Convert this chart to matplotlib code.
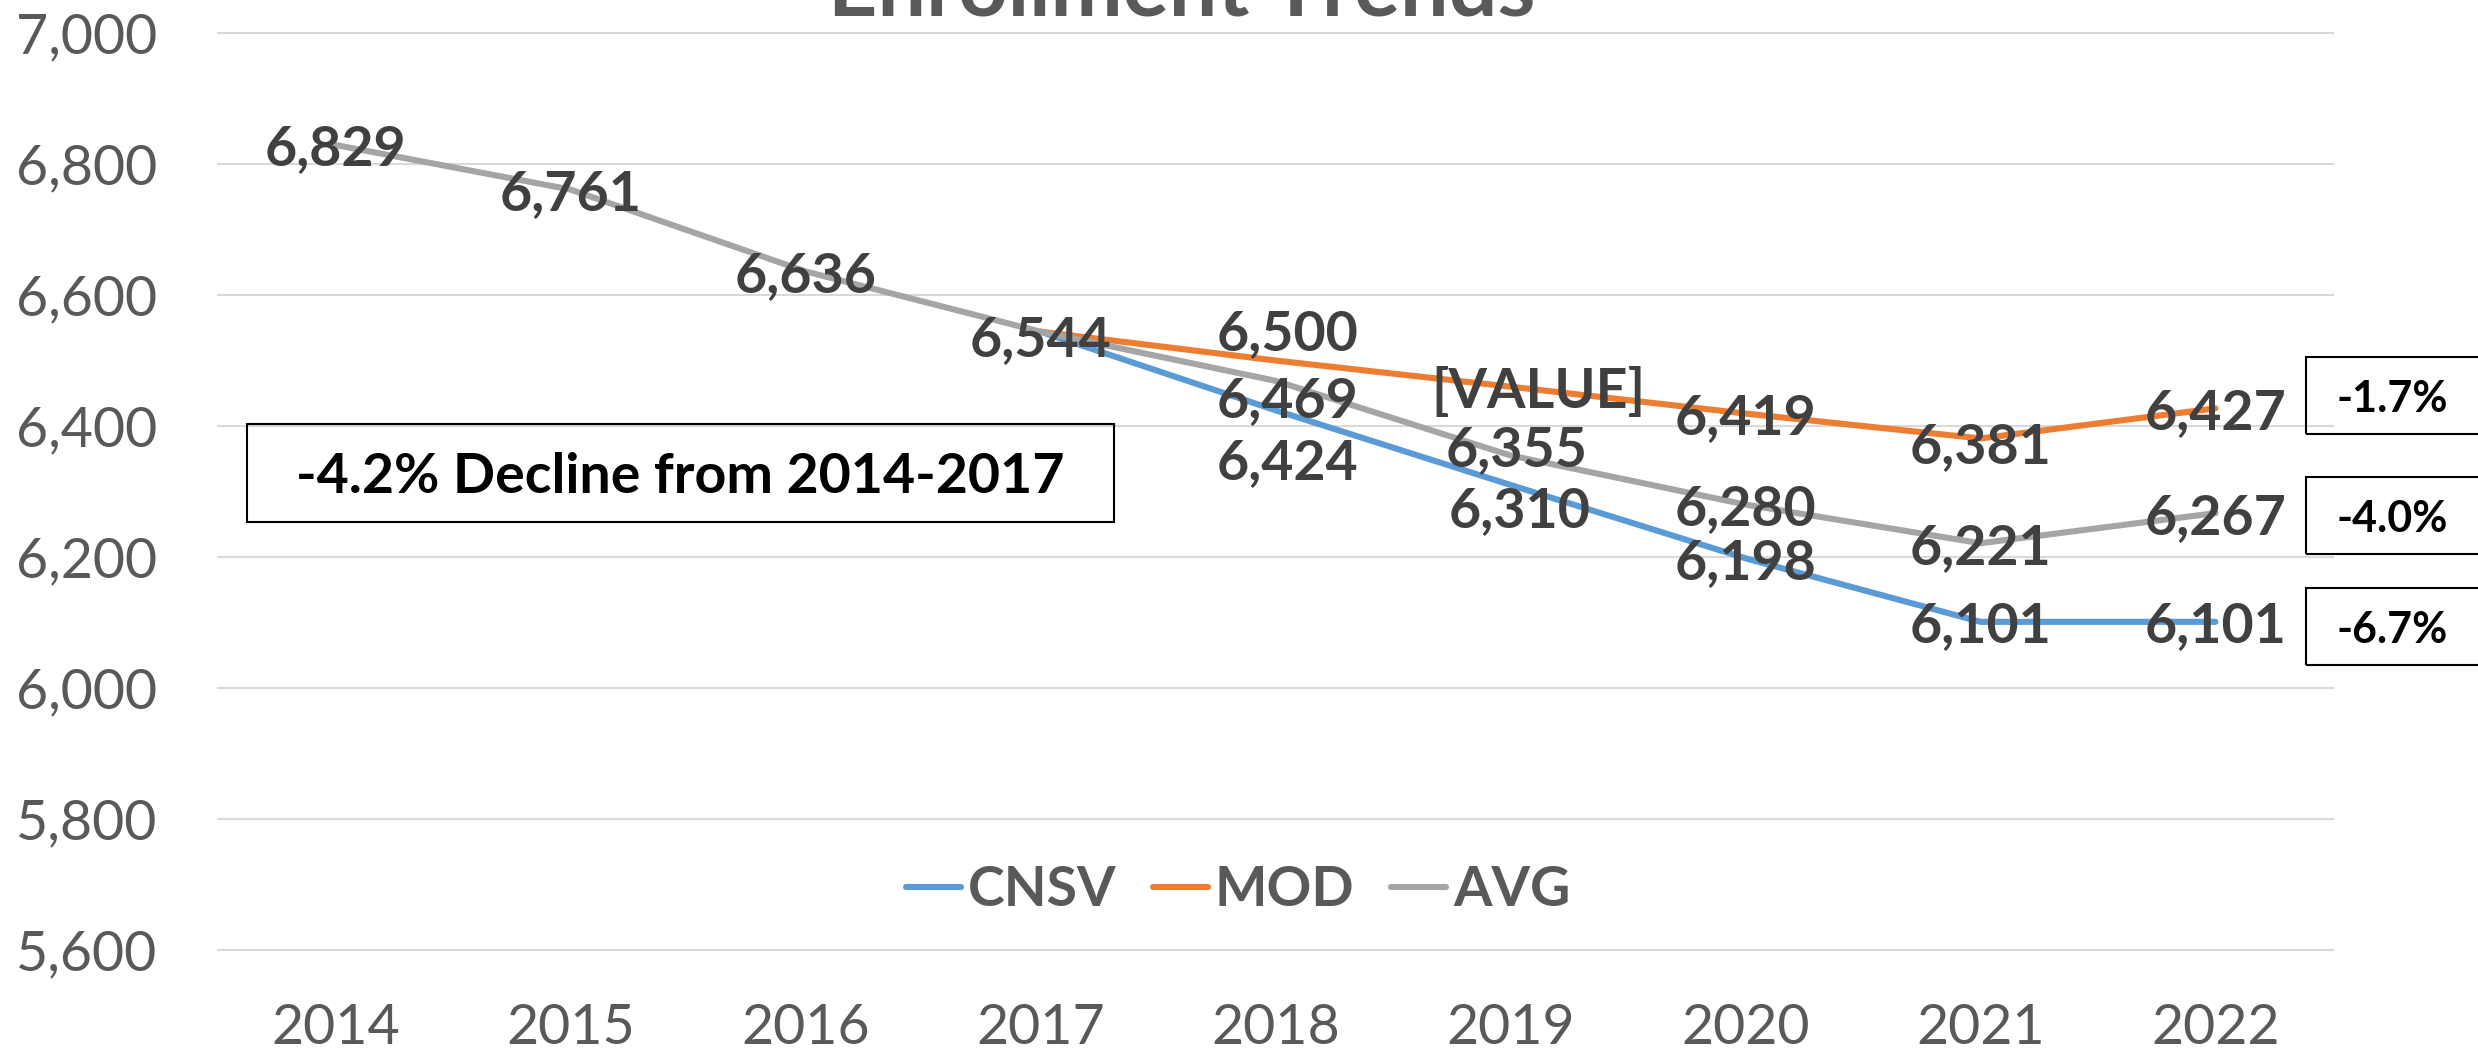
"""Enrollment trends line chart -- three projection series with Excel-style data labels and change call-outs."""

import matplotlib.pyplot as plt
import numpy as np
from matplotlib.patches import Rectangle

# data
years = [2014, 2015, 2016, 2017, 2018, 2019, 2020, 2021, 2022]
cnsv = [np.nan, np.nan, np.nan, 6544, 6424, 6310, 6198, 6101, 6101]
mod = [np.nan, np.nan, np.nan, 6544, 6500, 6460, 6419, 6381, 6427]
avg = [6829, 6761, 6636, 6544, 6469, 6355, 6280, 6221, 6267]
series_names = ["CNSV", "MOD", "AVG"]
change_labels = ["-1.7%", "-4.0%", "-6.7%"]
note_text = "-4.2% Decline from 2014-2017"
title_text = "Enrollment Trends"
y_ticks = [5600, 5800, 6000, 6200, 6400, 6600, 6800, 7000]

COLORS = {"CNSV": "#5B9BD5", "MOD": "#ED7D31", "AVG": "#A5A5A5"}
TXT = "#595959"
LBL = "#404040"
FONT = ["Lato", "DejaVu Sans"]

W, H = 2478, 1057  # output size in px (dpi 100)


def fx(px):
    return px / W


def fy(py):
    return 1 - py / H


plt.rcParams["font.family"] = FONT

fig = plt.figure(figsize=(W / 100, H / 100), dpi=100)
fig.patch.set_facecolor("white")
ax = fig.add_axes([fx(218), fy(950), (2333 - 218) / W, (950 - 33) / H])

x = np.arange(len(years))
data = {"CNSV": cnsv, "MOD": mod, "AVG": avg}
for name in series_names:
    ax.plot(x, data[name], color=COLORS[name], lw=4.4, label=name,
            solid_capstyle="round", solid_joinstyle="round", zorder=3)

ax.set_xlim(-0.5, len(years) - 0.5)
ax.set_ylim(y_ticks[0], y_ticks[-1])
ax.set_yticks(y_ticks)
ax.set_yticklabels([f"{v:,}" for v in y_ticks])
ax.set_xticks(x)
ax.set_xticklabels([str(y) for y in years])
ax.tick_params(axis="both", length=0, labelsize=40, colors=TXT)
ax.tick_params(axis="y", pad=44)
ax.tick_params(axis="x", pad=38)  # a touch higher so the years clear the bottom edge
for s in ax.spines.values():
    s.set_visible(False)
ax.yaxis.grid(True, color="#D9D9D9", lw=1.5)
ax.set_axisbelow(True)
for gl in ax.get_ygridlines():
    gl.set_clip_on(False)

# data labels -- nudges (px) where Excel shifted them off the point
nudge = {
    ("AVG", 3): (0, -4), ("AVG", 4): (12, -16), ("AVG", 5): (6, 10),
    ("MOD", 4): (12, 31), ("MOD", 5): (28, 0), ("MOD", 7): (0, -4),
    ("CNSV", 4): (12, -48), ("CNSV", 5): (9, -22),
}
override = {("MOD", 5): "[VALUE]"}
for name in series_names:
    vals = data[name]
    for i, v in enumerate(vals):
        if np.isnan(v):
            continue
        if name != "AVG" and i == 3:
            continue  # 2017 start point shares the AVG label
        txt = override.get((name, i), f"{int(v):,}")
        ax.annotate(txt, (x[i], v), xytext=nudge.get((name, i), (0, 0)),
                    textcoords="offset pixels", ha="center", va="center_baseline",
                    fontsize=40, fontweight="bold", color=LBL, zorder=5,
                    annotation_clip=False)

# title, mostly cropped off the top edge
fig.text(fx(1182), fy(16), title_text, ha="center", va="baseline",
         fontsize=62, fontweight="bold", color=TXT)

# call-out boxes
fig.add_artist(Rectangle((fx(247), fy(522)), (1114 - 247) / W, (522 - 424) / H,
                         transform=fig.transFigure, fill=False, ec="black", lw=1.5))
fig.text(fx(680), fy(473), note_text, ha="center", va="center_baseline",
         fontsize=40, fontweight="bold", color="black")

box_rows = [(357, 434), (477, 554), (588, 665)]
for lab, (top, bot) in zip(change_labels, box_rows):
    fig.add_artist(Rectangle((fx(2306), fy(bot)), (2484 - 2306) / W, (bot - top) / H,
                             transform=fig.transFigure, fill=False, ec="black", lw=1.5))
    fig.text(fx(2392), fy((top + bot) / 2), lab, ha="center", va="center_baseline",
             fontsize=31, fontweight="bold", color="black")

# legend
leg = fig.legend(loc="center", bbox_to_anchor=(fx(1238), fy(890)), ncol=3, frameon=False,
                 handlelength=1.0, handletextpad=0.12, columnspacing=0.65,
                 prop={"family": FONT, "size": 40, "weight": "bold"})
for t in leg.get_texts():
    t.set_color(TXT)

fig.savefig("out.png", dpi=100, facecolor="white")
